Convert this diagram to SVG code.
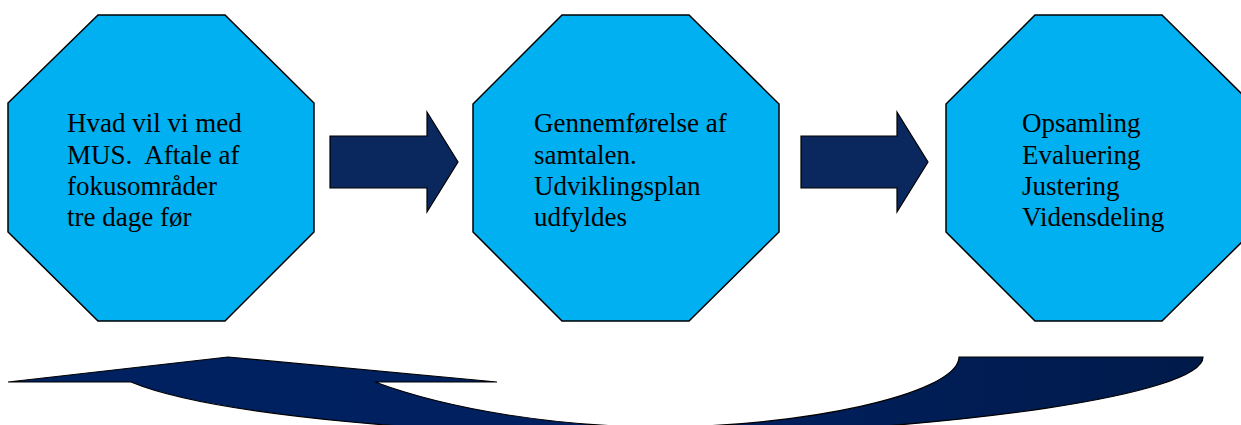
<svg xmlns="http://www.w3.org/2000/svg" width="1241" height="425" viewBox="0 0 1241 425">
<style>
.oct{fill:#00b0f0;stroke:#000;stroke-width:1.5;stroke-linejoin:miter}
.lbl{font-family:"Liberation Serif","Times New Roman",serif;font-size:27px;fill:#000}
.arr{fill:#0a275e;stroke:#000;stroke-width:1.2}
.carr{fill:url(#cg);stroke:#000;stroke-width:1.2}
</style>
<defs>
<linearGradient id="cg" x1="0" y1="0" x2="1" y2="0">
<stop offset="0" stop-color="#00215f"/>
<stop offset="0.55" stop-color="#002060"/>
<stop offset="1" stop-color="#001a4a"/>
</linearGradient>
</defs>
<rect width="1241" height="425" fill="#fff"/>
<g id="node1">
<polygon class="oct" points="98,15 225,15 314,103 314,232 225,321 98,321 8,232 8,103"/>
<text class="lbl" x="67" y="132">Hvad vil vi med</text>
<text class="lbl" x="67" y="164" xml:space="preserve">MUS.&#160; Aftale af</text>
<text class="lbl" x="67" y="195">fokusområder</text>
<text class="lbl" x="67" y="226">tre dage før</text>
</g>
<g id="node2">
<polygon class="oct" points="562,15 689,15 779,104 779,232 689,321 562,321 473,232 473,104"/>
<text class="lbl" x="534" y="132">Gennemførelse af</text>
<text class="lbl" x="534" y="164">samtalen.</text>
<text class="lbl" x="534" y="195">Udviklingsplan</text>
<text class="lbl" x="534" y="226">udfyldes</text>
</g>
<g id="node3">
<polygon class="oct" points="1035,15 1162,15 1252,104 1252,232 1162,321 1035,321 946,232 946,104"/>
<text class="lbl" x="1022" y="132">Opsamling</text>
<text class="lbl" x="1022" y="164">Evaluering</text>
<text class="lbl" x="1022" y="195">Justering</text>
<text class="lbl" x="1022" y="226">Vidensdeling</text>
</g>
<g id="connectors">
<polygon class="arr" points="330,136 427,136 427,112 458,162 427,212 427,188 330,188"/>
<polygon class="arr" points="801,136 897,136 897,112 928,162 897,212 897,188 801,188"/>
<path class="carr" d="M8,382 L228,357 L497,382 L375,382 C450,410 560,427 660,427 C800,427 955,395 959,358 L959,357 L1203,357 C1203,395 950,430 700,435 C450,438 210,415 131,382 Z"/>
</g>
</svg>
